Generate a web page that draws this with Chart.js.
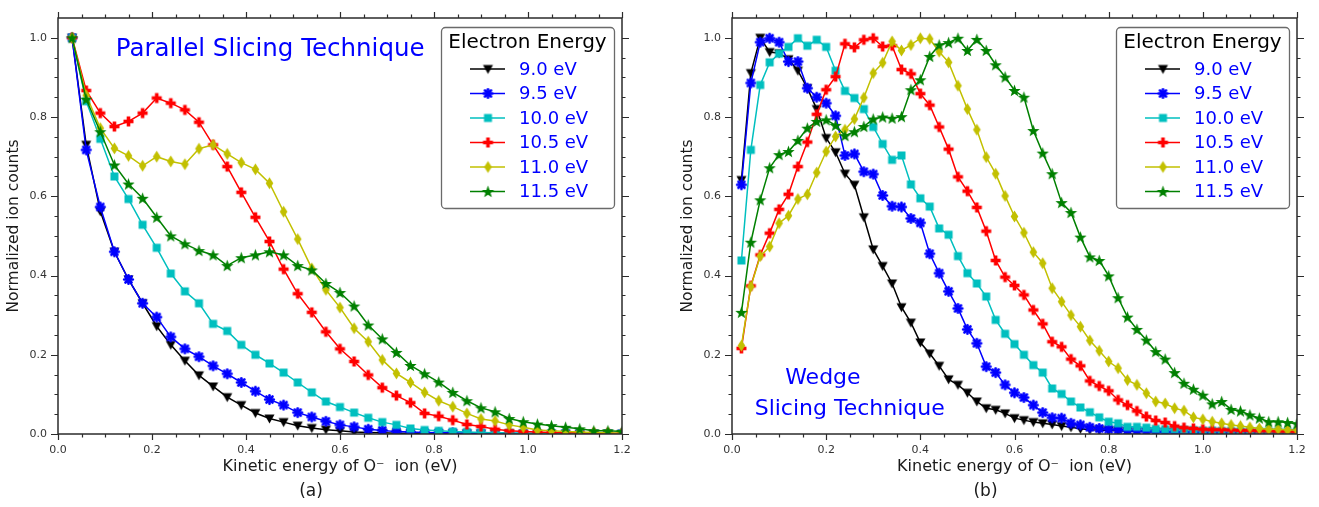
<!DOCTYPE html>
<html>
<head>
<meta charset="utf-8">
<script src="https://cdn.jsdelivr.net/npm/chart.js@4.4.1/dist/chart.umd.min.js"></script>
<style>
  html, body { margin: 0; padding: 0; background: #ffffff; }
  #wrap { position: relative; width: 1319px; height: 507px; overflow: hidden; }
  canvas { position: absolute; top: 0; }
  #panelA { left: 0; }
  #panelB { left: 660px; }
</style>
</head>
<body>
<div id="wrap">
  <canvas id="panelA" width="660" height="507"></canvas>
  <canvas id="panelB" width="659" height="507"></canvas>
</div>
<script>
// ---- series names and colours ----
const seriesLabels = ['9.0 eV', '9.5 eV', '10.0 eV', '10.5 eV', '11.0 eV', '11.5 eV'];
const seriesColors = ['#000000', '#0000ff', '#00bfbf', '#ff0000', '#c2c000', '#008000'];
const seriesMarkers = ['triDown', 'asterisk', 'square', 'plus', 'diamond', 'star'];

// ---- axis ticks ----
const xMajorTicks = [0.0, 0.2, 0.4, 0.6, 0.8, 1.0, 1.2];
const yMajorTicks = [0.0, 0.2, 0.4, 0.6, 0.8, 1.0];
const minorStep = 0.05;

// ---- (a) parallel slicing: kinetic energy (eV) and normalized counts ----
const energyA = [0.03, 0.06, 0.09, 0.12, 0.15, 0.18, 0.21, 0.24, 0.27, 0.30,
                 0.33, 0.36, 0.39, 0.42, 0.45, 0.48, 0.51, 0.54, 0.57, 0.60,
                 0.63, 0.66, 0.69, 0.72, 0.75, 0.78, 0.81, 0.84, 0.87, 0.90,
                 0.93, 0.96, 0.99, 1.02, 1.05, 1.08, 1.11, 1.14, 1.17, 1.20];
const countsA90 = [1.0, 0.73, 0.562, 0.46, 0.39, 0.33, 0.272, 0.225, 0.185, 0.148,
                   0.12, 0.093, 0.073, 0.053, 0.039, 0.03, 0.021, 0.015, 0.011, 0.008,
                   0.005, 0.004, 0.003, 0.002, 0.002, 0.001, 0.001, 0.001, 0.001, 0.001,
                   0.001, 0.001, 0.0, 0.0, 0.0, 0.0, 0.0, 0.0, 0.0, 0.0];
const countsA95 = [1.0, 0.717, 0.573, 0.46, 0.39, 0.33, 0.295, 0.245, 0.215, 0.195,
                   0.172, 0.152, 0.13, 0.108, 0.087, 0.073, 0.054, 0.043, 0.032, 0.023,
                   0.018, 0.012, 0.009, 0.006, 0.005, 0.004, 0.003, 0.003, 0.002, 0.002,
                   0.002, 0.001, 0.001, 0.001, 0.001, 0.001, 0.001, 0.0, 0.0, 0.0];
const countsA100 = [1.0, 0.84, 0.745, 0.65, 0.593, 0.528, 0.47, 0.405, 0.36, 0.33,
                    0.278, 0.26, 0.225, 0.2, 0.178, 0.155, 0.13, 0.105, 0.082, 0.068,
                    0.054, 0.041, 0.03, 0.023, 0.014, 0.01, 0.008, 0.006, 0.005, 0.004,
                    0.003, 0.003, 0.002, 0.002, 0.002, 0.001, 0.001, 0.001, 0.001, 0.001];
const countsA105 = [1.0, 0.867, 0.81, 0.776, 0.789, 0.81, 0.848, 0.835, 0.818, 0.787,
                    0.73, 0.675, 0.61, 0.547, 0.486, 0.416, 0.354, 0.307, 0.258, 0.215,
                    0.183, 0.149, 0.117, 0.097, 0.079, 0.052, 0.045, 0.035, 0.024, 0.019,
                    0.012, 0.008, 0.006, 0.005, 0.004, 0.003, 0.003, 0.002, 0.002, 0.001];
const countsA110 = [1.0, 0.855, 0.772, 0.721, 0.702, 0.677, 0.70, 0.688, 0.681, 0.72,
                    0.73, 0.707, 0.685, 0.668, 0.633, 0.561, 0.492, 0.418, 0.364, 0.319,
                    0.267, 0.233, 0.187, 0.153, 0.13, 0.105, 0.084, 0.069, 0.052, 0.038,
                    0.033, 0.023, 0.017, 0.01, 0.008, 0.006, 0.005, 0.004, 0.003, 0.002];
const countsA115 = [1.0, 0.845, 0.763, 0.679, 0.631, 0.595, 0.547, 0.50, 0.48, 0.463,
                    0.452, 0.425, 0.445, 0.452, 0.46, 0.452, 0.425, 0.414, 0.38, 0.357,
                    0.323, 0.275, 0.24, 0.206, 0.173, 0.152, 0.131, 0.105, 0.084, 0.066,
                    0.056, 0.039, 0.031, 0.025, 0.021, 0.017, 0.013, 0.008, 0.008, 0.006];

// ---- (b) wedge slicing: kinetic energy (eV) and normalized counts ----
const energyB = [0.02, 0.04, 0.06, 0.08, 0.10, 0.12, 0.14, 0.16, 0.18, 0.20,
                 0.22, 0.24, 0.26, 0.28, 0.30, 0.32, 0.34, 0.36, 0.38, 0.40,
                 0.42, 0.44, 0.46, 0.48, 0.50, 0.52, 0.54, 0.56, 0.58, 0.60,
                 0.62, 0.64, 0.66, 0.68, 0.70, 0.72, 0.74, 0.76, 0.78, 0.80,
                 0.82, 0.84, 0.86, 0.88, 0.90, 0.92, 0.94, 0.96, 0.98, 1.00,
                 1.02, 1.04, 1.06, 1.08, 1.10, 1.12, 1.14, 1.16, 1.18, 1.20];
const countsB90 = [0.641, 0.911, 1.0, 0.964, 0.961, 0.946, 0.917, 0.873, 0.82, 0.747,
                   0.711, 0.657, 0.629, 0.547, 0.466, 0.424, 0.38, 0.32, 0.281, 0.231,
                   0.203, 0.172, 0.138, 0.124, 0.104, 0.082, 0.065, 0.061, 0.052, 0.04,
                   0.035, 0.03, 0.027, 0.024, 0.02, 0.017, 0.013, 0.011, 0.01, 0.009,
                   0.008, 0.007, 0.006, 0.006, 0.005, 0.005, 0.004, 0.004, 0.004, 0.003,
                   0.003, 0.003, 0.003, 0.002, 0.002, 0.002, 0.002, 0.002, 0.001, 0.001];
const countsB95 = [0.629, 0.886, 0.989, 0.999, 0.989, 0.94, 0.94, 0.873, 0.85, 0.835,
                   0.803, 0.703, 0.707, 0.662, 0.656, 0.602, 0.575, 0.573, 0.544, 0.533,
                   0.455, 0.406, 0.36, 0.317, 0.264, 0.229, 0.17, 0.155, 0.124, 0.104,
                   0.092, 0.073, 0.054, 0.041, 0.04, 0.027, 0.023, 0.017, 0.014, 0.012,
                   0.011, 0.009, 0.008, 0.007, 0.006, 0.005, 0.005, 0.004, 0.004, 0.003,
                   0.003, 0.003, 0.002, 0.002, 0.002, 0.002, 0.002, 0.001, 0.001, 0.001];
const countsB100 = [0.438, 0.717, 0.881, 0.938, 0.96, 0.977, 0.999, 0.98, 0.995, 0.977,
                    0.917, 0.866, 0.848, 0.82, 0.775, 0.732, 0.692, 0.703, 0.63, 0.595,
                    0.574, 0.519, 0.503, 0.449, 0.406, 0.38, 0.347, 0.288, 0.253, 0.227,
                    0.2, 0.174, 0.155, 0.115, 0.101, 0.082, 0.067, 0.055, 0.042, 0.031,
                    0.027, 0.018, 0.018, 0.016, 0.013, 0.012, 0.012, 0.011, 0.01, 0.009,
                    0.009, 0.008, 0.008, 0.007, 0.007, 0.007, 0.006, 0.006, 0.005, 0.005];
const countsB105 = [0.216, 0.374, 0.452, 0.507, 0.567, 0.605, 0.675, 0.737, 0.807, 0.869,
                    0.902, 0.985, 0.976, 0.995, 0.999, 0.978, 0.98, 0.92, 0.909, 0.859,
                    0.83, 0.775, 0.719, 0.649, 0.613, 0.572, 0.512, 0.438, 0.396, 0.375,
                    0.351, 0.313, 0.278, 0.233, 0.22, 0.189, 0.172, 0.134, 0.121, 0.109,
                    0.086, 0.073, 0.058, 0.044, 0.034, 0.029, 0.02, 0.016, 0.014, 0.012,
                    0.011, 0.011, 0.01, 0.009, 0.009, 0.008, 0.008, 0.007, 0.007, 0.006];
const countsB110 = [0.223, 0.372, 0.449, 0.473, 0.532, 0.551, 0.593, 0.605, 0.66, 0.713,
                    0.751, 0.768, 0.795, 0.849, 0.911, 0.937, 0.991, 0.968, 0.982, 0.999,
                    0.997, 0.965, 0.938, 0.879, 0.82, 0.768, 0.699, 0.657, 0.601, 0.549,
                    0.508, 0.459, 0.431, 0.368, 0.334, 0.3, 0.271, 0.236, 0.21, 0.183,
                    0.166, 0.136, 0.124, 0.103, 0.082, 0.077, 0.065, 0.059, 0.042, 0.037,
                    0.031, 0.027, 0.023, 0.02, 0.017, 0.014, 0.012, 0.012, 0.01, 0.01];
const countsB115 = [0.307, 0.484, 0.591, 0.672, 0.705, 0.713, 0.741, 0.772, 0.789, 0.793,
                    0.779, 0.753, 0.763, 0.776, 0.795, 0.8, 0.797, 0.801, 0.869, 0.894,
                    0.953, 0.982, 0.988, 0.999, 0.968, 0.996, 0.968, 0.932, 0.901, 0.867,
                    0.85, 0.766, 0.709, 0.657, 0.584, 0.559, 0.497, 0.447, 0.438, 0.399,
                    0.344, 0.295, 0.264, 0.237, 0.208, 0.189, 0.155, 0.128, 0.113, 0.098,
                    0.076, 0.082, 0.062, 0.058, 0.048, 0.04, 0.031, 0.031, 0.029, 0.026];

const FONT = '"DejaVu Sans", Verdana, sans-serif';

// ---- marker glyphs, drawn once into small canvases ----
function makeMarker(shape, color) {
  const c = document.createElement('canvas');
  c.width = 15; c.height = 15;
  const g = c.getContext('2d');
  g.translate(7.5, 7.5);
  g.fillStyle = color;
  g.strokeStyle = color;
  if (shape === 'triDown') {
    g.beginPath(); g.moveTo(-5, -4); g.lineTo(5, -4); g.lineTo(0, 5); g.closePath(); g.fill();
  } else if (shape === 'asterisk') {
    g.lineWidth = 2.6; g.lineCap = 'round';
    for (let i = 0; i < 4; i++) {
      const t = i * Math.PI / 4, r = 4.3;
      g.beginPath(); g.moveTo(-r * Math.cos(t), -r * Math.sin(t)); g.lineTo(r * Math.cos(t), r * Math.sin(t)); g.stroke();
    }
  } else if (shape === 'square') {
    g.fillRect(-4, -4, 8, 8);
  } else if (shape === 'plus') {
    g.fillRect(-5, -1.8, 10, 3.6); g.fillRect(-1.8, -5, 3.6, 10);
  } else if (shape === 'diamond') {
    g.beginPath(); g.moveTo(0, -6); g.lineTo(3.8, 0); g.lineTo(0, 6); g.lineTo(-3.8, 0); g.closePath(); g.fill();
  } else if (shape === 'star') {
    g.beginPath();
    for (let i = 0; i < 10; i++) {
      const r = i % 2 === 0 ? 6.5 : 2.7;
      const t = -Math.PI / 2 + i * Math.PI / 5;
      const px = r * Math.cos(t), py = r * Math.sin(t) + 0.6;
      if (i === 0) g.moveTo(px, py); else g.lineTo(px, py);
    }
    g.closePath(); g.fill();
  }
  return c;
}
const markerImages = seriesMarkers.map((m, i) => makeMarker(m, seriesColors[i]));

// ---- frame, ticks, in-plot notes and the boxed legend ----
const panelDecor = {
  id: 'panelDecor',
  afterDatasetsDraw(chart, args, opts) {
    const { ctx, chartArea: a, scales: { x, y } } = chart;
    ctx.save();
    ctx.strokeStyle = '#2b2b2b';
    ctx.lineWidth = 1.5;
    ctx.strokeRect(a.left, a.top, a.right - a.left, a.bottom - a.top);

    ctx.lineWidth = 1.2;
    ctx.beginPath();
    for (let i = 0; i * minorStep <= x.max + 1e-9; i++) {
      const v = i * minorStep;
      const px = Math.round(x.getPixelForValue(v)) + 0.5;
      const len = xMajorTicks.some(t => Math.abs(t - v) < 1e-9) ? 6 : 3.5;
      ctx.moveTo(px, a.bottom); ctx.lineTo(px, a.bottom + len);
      ctx.moveTo(px, a.top); ctx.lineTo(px, a.top - len);
    }
    for (let i = 0; i * minorStep < y.max - 1e-9; i++) {
      const v = i * minorStep;
      const py = Math.round(y.getPixelForValue(v)) + 0.5;
      const len = yMajorTicks.some(t => Math.abs(t - v) < 1e-9) ? 7 : 3.5;
      ctx.moveTo(a.left, py); ctx.lineTo(a.left - len, py);
      ctx.moveTo(a.right, py); ctx.lineTo(a.right + len, py);
    }
    ctx.stroke();

    // notes placed in data coordinates
    (opts.notes || []).forEach(n => {
      ctx.font = n.size + 'px ' + FONT;
      ctx.fillStyle = '#0000ff';
      ctx.textAlign = n.align;
      ctx.textBaseline = 'middle';
      ctx.fillText(n.text, x.getPixelForValue(n.x), y.getPixelForValue(n.y));
    });

    // legend box
    const bw = 173, bh = 181;
    const bx = a.right - 8 - bw, by = a.top + 9;
    ctx.beginPath();
    ctx.roundRect(bx + 0.5, by + 0.5, bw, bh, 4);
    ctx.fillStyle = '#ffffff';
    ctx.fill();
    ctx.strokeStyle = '#6a6a6a';
    ctx.lineWidth = 1.3;
    ctx.stroke();
    ctx.font = '20px ' + FONT;
    ctx.fillStyle = '#000000';
    ctx.textAlign = 'center';
    ctx.textBaseline = 'middle';
    ctx.fillText(opts.legendTitle, bx + bw / 2, by + 16);
    ctx.font = '18px ' + FONT;
    ctx.textAlign = 'left';
    chart.data.datasets.forEach((ds, i) => {
      const yy = by + 42 + i * 24.5;
      ctx.strokeStyle = ds.borderColor;
      ctx.lineWidth = 1.5;
      ctx.beginPath(); ctx.moveTo(bx + 29, yy); ctx.lineTo(bx + 64, yy); ctx.stroke();
      const img = ds.pointStyle;
      ctx.drawImage(img, bx + 47 - img.width / 2, yy - img.height / 2);
      ctx.fillStyle = '#0000ff';
      ctx.fillText(ds.label, bx + 78, yy + 1);
    });
    ctx.restore();
  }
};

function buildPanel(canvasId, energies, countSets, panelTag, padLeft, padRight, notes) {
  const titleFont = 17, titlePadBottom = 5;
  const bottomTitleH = titleFont * 1.2 + titlePadBottom;
  const xAxisH = 507 - 434 - bottomTitleH;
  return new Chart(document.getElementById(canvasId), {
    type: 'scatter',
    data: {
      datasets: countSets.map((vals, i) => ({
        label: seriesLabels[i],
        data: vals.map((v, j) => ({ x: energies[j], y: v })),
        showLine: true,
        borderColor: seriesColors[i],
        backgroundColor: seriesColors[i],
        borderWidth: 1.5,
        pointStyle: markerImages[i],
        pointRadius: 5,
        pointHoverRadius: 5,
        order: countSets.length - i
      }))
    },
    options: {
      responsive: false,
      animation: false,
      events: [],
      layout: { padding: { left: padLeft, right: padRight, top: 18, bottom: 0 } },
      plugins: {
        legend: { display: false },
        tooltip: { enabled: false },
        title: {
          display: true, text: panelTag, position: 'bottom', color: '#1a1a1a',
          font: { family: FONT, size: titleFont, weight: 'normal' },
          padding: { top: 0, bottom: titlePadBottom }
        },
        panelDecor: { legendTitle: 'Electron Energy', notes: notes }
      },
      scales: {
        x: {
          type: 'linear', min: 0, max: 1.2,
          afterFit: s => { s.height = xAxisH; },
          grid: { display: false, drawTicks: false },
          border: { display: false },
          afterBuildTicks: s => { s.ticks = xMajorTicks.map(v => ({ value: v })); },
          ticks: {
            padding: 10, color: '#333333', maxRotation: 0, autoSkip: false,
            font: { family: FONT, size: 11 },
            callback: v => Number(v).toFixed(1)
          },
          title: {
            display: true, text: 'Kinetic energy of O\u207B  ion (eV)', color: '#1a1a1a',
            font: { family: FONT, size: 16 }, padding: { top: 0, bottom: 5 }
          }
        },
        y: {
          type: 'linear', min: 0, max: 1.05,
          afterFit: s => { s.width = 58; },
          grid: { display: false, drawTicks: false },
          border: { display: false },
          afterBuildTicks: s => { s.ticks = yMajorTicks.map(v => ({ value: v })); },
          ticks: {
            padding: 11, color: '#333333',
            font: { family: FONT, size: 11 },
            callback: v => Number(v).toFixed(1)
          },
          title: {
            display: true, text: 'Normalized ion counts', color: '#1a1a1a',
            font: { family: FONT, size: 15.5 }, padding: { top: 5, bottom: 0 }
          }
        }
      }
    },
    plugins: [panelDecor]
  });
}

buildPanel('panelA', energyA,
  [countsA90, countsA95, countsA100, countsA105, countsA110, countsA115],
  '(a)', 0, 38,
  [{ text: 'Parallel Slicing Technique', x: 0.123, y: 0.97, size: 24.5, align: 'left' }]);

buildPanel('panelB', energyB,
  [countsB90, countsB95, countsB100, countsB105, countsB110, countsB115],
  '(b)', 14, 22,
  [{ text: 'Wedge', x: 0.193, y: 0.141, size: 22, align: 'center' },
   { text: 'Slicing Technique', x: 0.25, y: 0.063, size: 22, align: 'center' }]);
</script>
</body>
</html>
